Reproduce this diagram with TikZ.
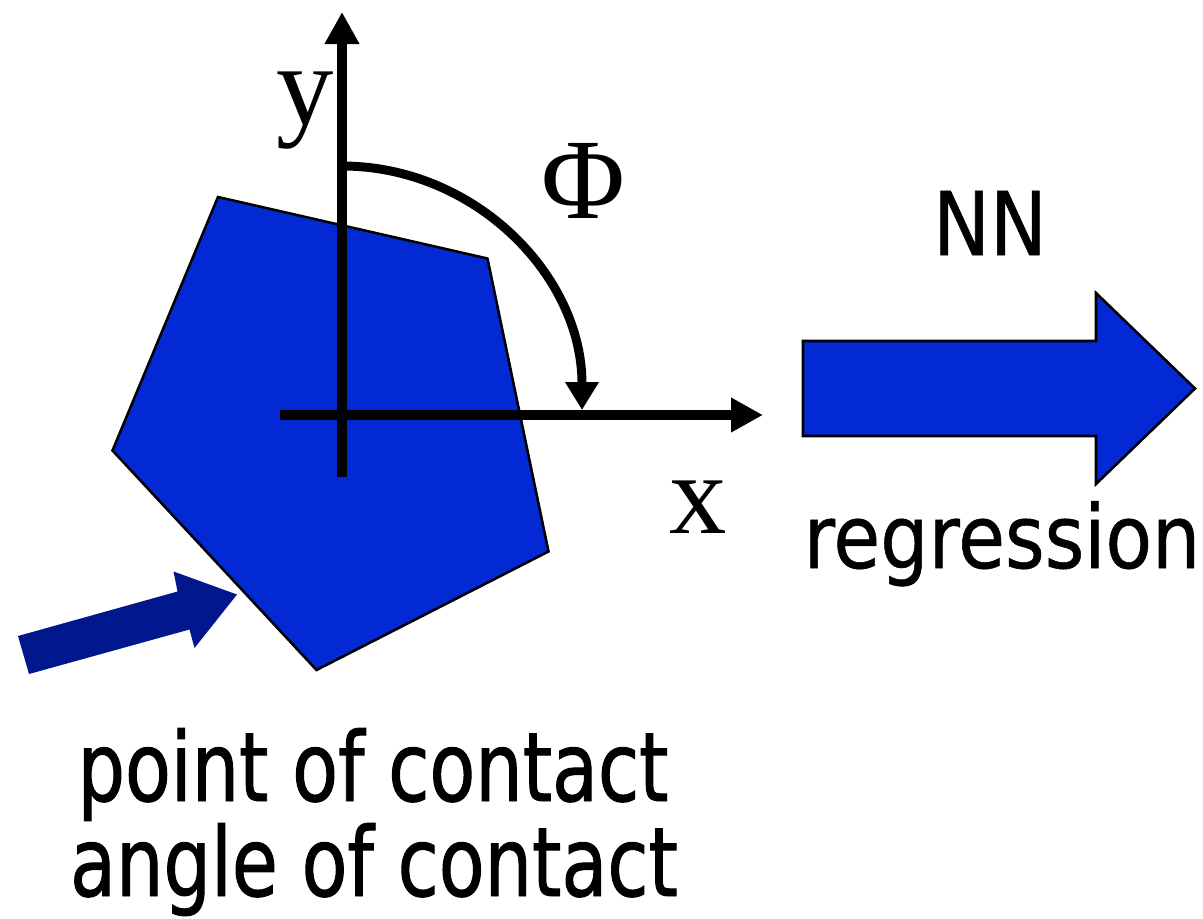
\documentclass[tikz,border=0pt]{standalone}
\usepackage{fontspec}
\setmainfont{Liberation Serif}
\newfontfamily\labelfont[FakeStretch=0.865,FakeBold=0.6]{DejaVu Sans}
\newfontfamily\captionfont[FakeStretch=0.78,FakeBold=1.0]{DejaVu Sans}
\usetikzlibrary{arrows.meta}
\definecolor{polyblue}{RGB}{3,41,212}
\definecolor{pushblue}{RGB}{0,23,142}
\tikzset{
  axis/.style={line width=7.8pt,-{Triangle[length=24pt,width=24.5pt]}},
  anglearc/.style={line width=6.7pt,-{Triangle[length=21pt,width=24pt]}},
  shapeblue/.style={fill=polyblue,draw=black,line width=1.9pt,line join=miter},
  serifl/.style={inner sep=0pt,anchor=base,font=\fontsize{86}{100}\selectfont},
  sansl/.style={inner sep=0pt,anchor=base,font=\labelfont\fontsize{66}{79}\selectfont},
  captl/.style={inner sep=0pt,anchor=base,font=\captionfont\fontsize{72}{76}\selectfont}
}
\begin{document}
\begin{tikzpicture}[x=0.75pt,y=-0.75pt]
\useasboundingbox (0,0) rectangle (1203,918);
% object (pentagon)
\draw[shapeblue] (218,197) -- (487.5,258.5) -- (548.5,551.5) -- (316.5,670) -- (112.5,450.5) -- cycle;
% push arrow
\fill[pushblue] (18,636) -- (177.5,591.5) -- (173.5,571.5) -- (237,594.5) -- (194.5,648) -- (189.5,629.5) -- (29,674) -- cycle;
% axes
\coordinate (ybot) at (342,476.5);
\coordinate (ytip) at (342,12);
\coordinate (xleft) at (280,415);
\coordinate (xtip) at (763,415);
\coordinate (arcstart) at (342,166);
\draw[axis] (ybot) -- (ytip);
\draw[axis] (xleft) -- (xtip);
% angle arc
\draw[anglearc] (arcstart) arc[start angle=270,end angle=360,x radius=240,y radius=244];
% labels
\node[serifl] (ylab) at (305,124) {y};
\node[serifl] (philab) at (583,218) {Φ};
\node[serifl] (xlab) at (698,533) {x};
% NN regression arrow
\draw[shapeblue] (803,341) -- (1096,341) -- (1096,293) -- (1195,388.5) -- (1096,484) -- (1096,436) -- (803,436) -- cycle;
\node[sansl] (nn) at (990,255) {NN};
\node[sansl] (reg) at (1002,568) {regression};
% captions
\node[captl] (cap1) at (373,801) {point of contact};
\node[captl] (cap2) at (374,896) {angle of contact};
\end{tikzpicture}
\end{document}
